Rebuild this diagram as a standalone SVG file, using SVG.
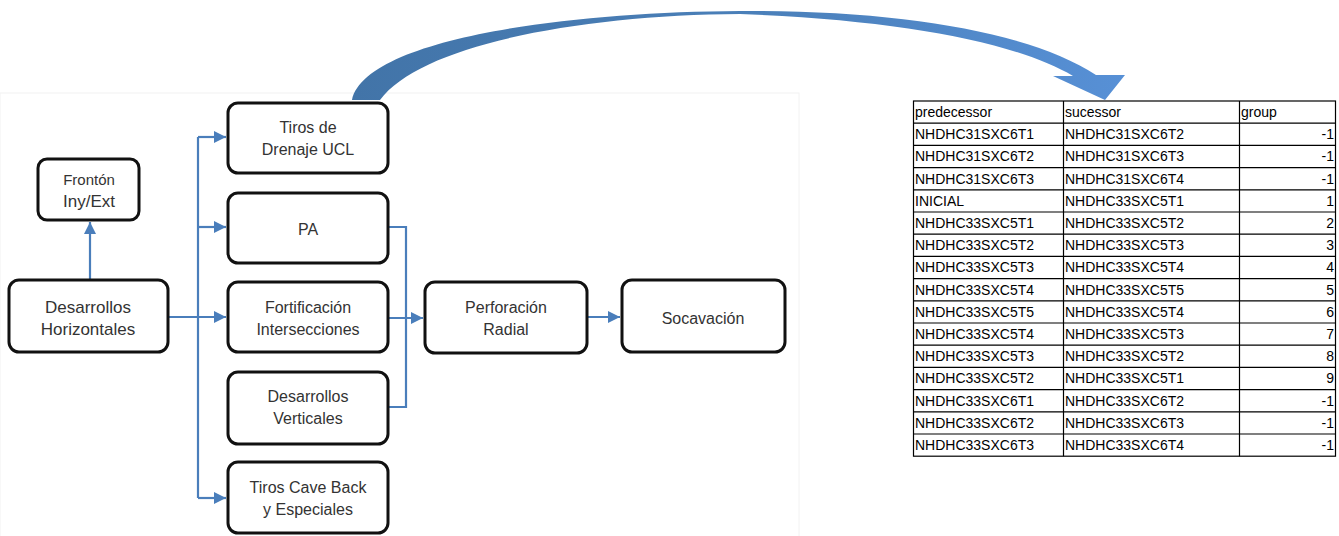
<svg xmlns="http://www.w3.org/2000/svg" width="1339" height="536" viewBox="0 0 1339 536">
<defs>
<style>
.box{fill:#fff;stroke:#111;stroke-width:3}
.lbl{font-family:"Liberation Sans",Arial,sans-serif;font-size:16px;fill:#333;text-anchor:middle}
.con{fill:none;stroke:#4a7ebb;stroke-width:2.2}
.tt{font-family:"Liberation Sans",Arial,sans-serif;font-size:14px;fill:#000}
.num{text-anchor:end}
.grid{stroke:#000;stroke-width:1.2;fill:none}
</style>
<marker id="ah" markerUnits="userSpaceOnUse" markerWidth="13" markerHeight="12" refX="12" refY="6" orient="auto">
<path d="M0,0 L12,6 L0,12 z" fill="#4a7ebb"/>
</marker>
<linearGradient id="arcg" x1="352" y1="0" x2="1125" y2="0" gradientUnits="userSpaceOnUse">
<stop offset="0" stop-color="#4274a8"/>
<stop offset="0.5" stop-color="#4a7fb8"/>
<stop offset="1" stop-color="#5790d6"/>
</linearGradient>
</defs>
<rect x="0" y="93" width="799" height="450" fill="none" stroke="#f2f2f2" stroke-width="1"/>
<g id="connectors">
<path class="con" d="M90,280 V222" marker-end="url(#ah)"/>
<path class="con" d="M168,317 H226" marker-end="url(#ah)"/>
<path class="con" d="M198,137 V498"/>
<path class="con" d="M198,137 H226" marker-end="url(#ah)"/>
<path class="con" d="M198,227 H226" marker-end="url(#ah)"/>
<path class="con" d="M198,498 H226" marker-end="url(#ah)"/>
<path class="con" d="M388,227 H406 V407 H388"/>
<path class="con" d="M388,318 H423" marker-end="url(#ah)"/>
<path class="con" d="M587,317 H620" marker-end="url(#ah)"/>
</g>
<g id="curved-arrow">
<path fill="url(#arcg)" d="M352,100 C365,40 560,12 740,11 C900,10 1030,32 1096,75 L1125,75 L1105,100 L1053,76 L1073,76 C1015,42 900,20 740,14 C580,15 420,45 380,100 Z"/>
</g>
<g id="n-fronton">
<rect class="box" x="38" y="159" width="101" height="61" rx="9"/>
<text class="lbl" x="89" y="185" style="font-size:15px">Frontón</text>
<text class="lbl" x="89" y="207" style="font-size:17px">Iny/Ext</text>
</g>
<g id="n-deshor">
<rect class="box" x="9" y="280" width="159" height="72" rx="10"/>
<text class="lbl" x="88" y="313" style="font-size:17px">Desarrollos</text>
<text class="lbl" x="88" y="335" style="font-size:17px">Horizontales</text>
</g>
<g id="n-tiros-drenaje">
<rect class="box" x="228" y="103" width="160" height="70" rx="10"/>
<text class="lbl" x="308" y="133">Tiros de</text>
<text class="lbl" x="308" y="155">Drenaje UCL</text>
</g>
<g id="n-pa">
<rect class="box" x="228" y="193" width="160" height="70" rx="10"/>
<text class="lbl" x="308" y="235">PA</text>
</g>
<g id="n-fortificacion">
<rect class="box" x="228" y="282" width="160" height="70" rx="10"/>
<text class="lbl" x="308" y="313">Fortificación</text>
<text class="lbl" x="308" y="335">Intersecciones</text>
</g>
<g id="n-desver">
<rect class="box" x="228" y="372" width="160" height="72" rx="10"/>
<text class="lbl" x="308" y="402">Desarrollos</text>
<text class="lbl" x="308" y="424">Verticales</text>
</g>
<g id="n-tiros-cave">
<rect class="box" x="228" y="462" width="160" height="71" rx="10"/>
<text class="lbl" x="308" y="493">Tiros Cave Back</text>
<text class="lbl" x="308" y="515">y Especiales</text>
</g>
<g id="n-perforacion">
<rect class="box" x="425" y="282" width="162" height="71" rx="10"/>
<text class="lbl" x="506" y="313">Perforación</text>
<text class="lbl" x="506" y="335">Radial</text>
</g>
<g id="n-socavacion">
<rect class="box" x="622" y="280" width="163" height="72" rx="10"/>
<text class="lbl" x="703" y="324">Socavación</text>
</g>
<g id="table">
<rect class="grid" x="913.5" y="101" width="422" height="355.2"/>
<path class="grid" d="M1063.5,101 V456.2 M1239.5,101 V456.2"/>
<path class="grid" d="M913.5,123.2 H1335.5 M913.5,145.4 H1335.5 M913.5,167.6 H1335.5 M913.5,189.8 H1335.5 M913.5,212 H1335.5 M913.5,234.2 H1335.5 M913.5,256.4 H1335.5 M913.5,278.6 H1335.5 M913.5,300.8 H1335.5 M913.5,323 H1335.5 M913.5,345.2 H1335.5 M913.5,367.4 H1335.5 M913.5,389.6 H1335.5 M913.5,411.8 H1335.5 M913.5,434 H1335.5"/>
<g class="tt">
<text x="915" y="117">predecessor</text><text x="1065" y="117">sucessor</text><text x="1241" y="117">group</text>
<text x="915" y="139.2">NHDHC31SXC6T1</text><text x="1065" y="139.2">NHDHC31SXC6T2</text><text class="num" x="1334" y="139.2">-1</text>
<text x="915" y="161.4">NHDHC31SXC6T2</text><text x="1065" y="161.4">NHDHC31SXC6T3</text><text class="num" x="1334" y="161.4">-1</text>
<text x="915" y="183.6">NHDHC31SXC6T3</text><text x="1065" y="183.6">NHDHC31SXC6T4</text><text class="num" x="1334" y="183.6">-1</text>
<text x="915" y="205.8">INICIAL</text><text x="1065" y="205.8">NHDHC33SXC5T1</text><text class="num" x="1334" y="205.8">1</text>
<text x="915" y="228">NHDHC33SXC5T1</text><text x="1065" y="228">NHDHC33SXC5T2</text><text class="num" x="1334" y="228">2</text>
<text x="915" y="250.2">NHDHC33SXC5T2</text><text x="1065" y="250.2">NHDHC33SXC5T3</text><text class="num" x="1334" y="250.2">3</text>
<text x="915" y="272.4">NHDHC33SXC5T3</text><text x="1065" y="272.4">NHDHC33SXC5T4</text><text class="num" x="1334" y="272.4">4</text>
<text x="915" y="294.6">NHDHC33SXC5T4</text><text x="1065" y="294.6">NHDHC33SXC5T5</text><text class="num" x="1334" y="294.6">5</text>
<text x="915" y="316.8">NHDHC33SXC5T5</text><text x="1065" y="316.8">NHDHC33SXC5T4</text><text class="num" x="1334" y="316.8">6</text>
<text x="915" y="339">NHDHC33SXC5T4</text><text x="1065" y="339">NHDHC33SXC5T3</text><text class="num" x="1334" y="339">7</text>
<text x="915" y="361.2">NHDHC33SXC5T3</text><text x="1065" y="361.2">NHDHC33SXC5T2</text><text class="num" x="1334" y="361.2">8</text>
<text x="915" y="383.4">NHDHC33SXC5T2</text><text x="1065" y="383.4">NHDHC33SXC5T1</text><text class="num" x="1334" y="383.4">9</text>
<text x="915" y="405.6">NHDHC33SXC6T1</text><text x="1065" y="405.6">NHDHC33SXC6T2</text><text class="num" x="1334" y="405.6">-1</text>
<text x="915" y="427.8">NHDHC33SXC6T2</text><text x="1065" y="427.8">NHDHC33SXC6T3</text><text class="num" x="1334" y="427.8">-1</text>
<text x="915" y="450">NHDHC33SXC6T3</text><text x="1065" y="450">NHDHC33SXC6T4</text><text class="num" x="1334" y="450">-1</text>
</g>
</g>
</svg>
